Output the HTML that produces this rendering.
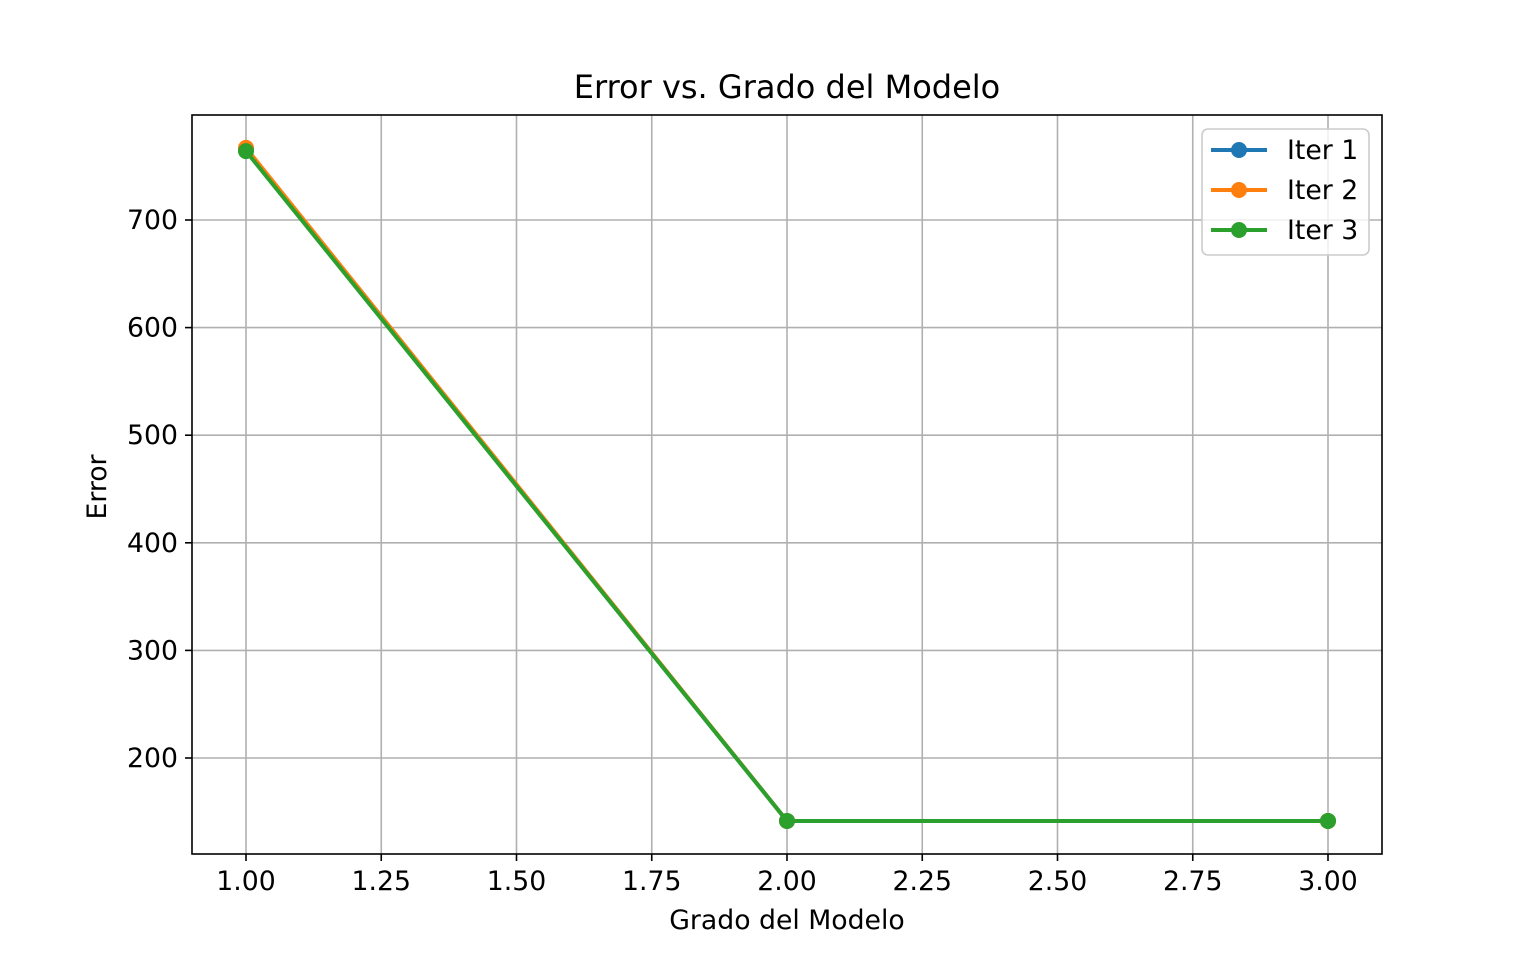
<!DOCTYPE html>
<html><head><meta charset="utf-8"><style>
html,body{margin:0;padding:0;background:#fff;}
svg text{font-family:"DejaVu Sans","Liberation Sans",sans-serif;fill:#000;}
</style></head><body>
<svg id="chart" width="1536" height="960" xmlns="http://www.w3.org/2000/svg"></svg>
<script>
const xValues = [1, 2, 3];
const iter1 = [765, 141.5, 141.5];
const iter2 = [767, 141.5, 141.5];
const iter3 = [764, 141.5, 141.5];
const xTicks = [1.00, 1.25, 1.50, 1.75, 2.00, 2.25, 2.50, 2.75, 3.00];
const yTicks = [200, 300, 400, 500, 600, 700];
const seriesNames = ["Iter 1", "Iter 2", "Iter 3"];
const seriesColors = ["#1f77b4", "#ff7f0e", "#2ca02c"];

const L = 192, R = 1382, T = 115, B = 854;
const xs = v => 246 + (v - 1) * 541;
const ys = v => 758 - (v - 200) * 1.076;
const NS = "http://www.w3.org/2000/svg";
const svg = document.getElementById('chart');
function mk(tag, attrs, parent) {
  const e = document.createElementNS(NS, tag);
  for (const k in attrs) e.setAttribute(k, attrs[k]);
  (parent || svg).appendChild(e);
  return e;
}
// grid
xTicks.forEach(t => {
  const g = mk('line', {x1: xs(t), x2: xs(t), y1: T, y2: B, stroke: '#b0b0b0', 'stroke-width': 1.6});
  
  
  const tk = mk('line', {x1: xs(t), x2: xs(t), y1: B, y2: B + 7, stroke: '#000', 'stroke-width': 1.6});
  
  
  const tx = mk('text', {x: xs(t), y: B + 36, 'font-size': 26.7, 'text-anchor': 'middle'});
  tx.textContent = t.toFixed(2);
  
  
});
yTicks.forEach(t => {
  const g = mk('line', {x1: L, x2: R, y1: ys(t), y2: ys(t), stroke: '#b0b0b0', 'stroke-width': 1.6});
  
  
  const tk = mk('line', {x1: L - 7, x2: L, y1: ys(t), y2: ys(t), stroke: '#000', 'stroke-width': 1.6});
  
  
  const tx = mk('text', {x: L - 14, y: ys(t) + 9, 'font-size': 26.7, 'text-anchor': 'end'});
  tx.textContent = t;
  
  
});
// series
[iter1, iter2, iter3].forEach((s, i) => {
  const pts = s.map((v, j) => xs(xValues[j]) + ',' + ys(v)).join(' ');
  const pl = mk('polyline', {points: pts, fill: 'none', stroke: seriesColors[i], 'stroke-width': 4, 'stroke-linejoin': 'round'});
  
  
  s.forEach((v, j) => {
    const c = mk('circle', {cx: xs(xValues[j]), cy: ys(v), r: 8, fill: seriesColors[i]});
    
    
  });
});
// frame
const fr = mk('rect', {x: L, y: T, width: R - L, height: B - T, fill: 'none', stroke: '#000', 'stroke-width': 1.6});


// title & labels
const ti = mk('text', {x: 787, y: 98, 'font-size': 32, 'text-anchor': 'middle'});
ti.textContent = 'Error vs. Grado del Modelo';


const xl = mk('text', {x: 787, y: 929, 'font-size': 26.7, 'text-anchor': 'middle'});
xl.textContent = 'Grado del Modelo';


const yl = mk('text', {x: 0, y: 0, 'font-size': 26.7, 'text-anchor': 'middle', transform: 'translate(106,487) rotate(-90)'});
yl.textContent = 'Error';


// legend
const lg = mk('rect', {x: 1202, y: 129, width: 167, height: 126, rx: 6, fill: '#fff', 'fill-opacity': 0.8, stroke: '#cccccc', 'stroke-width': 1.6});


seriesNames.forEach((n, i) => {
  const y = 150 + i * 40;
  const ln = mk('line', {x1: 1211, x2: 1267, y1: y, y2: y, stroke: seriesColors[i], 'stroke-width': 4});
  
  
  const c = mk('circle', {cx: 1239, cy: y, r: 8, fill: seriesColors[i]});
  
  
  const t = mk('text', {x: 1287, y: y + 9, 'font-size': 26.7});
  t.textContent = n;
  
  
});
</script>
</body></html>
